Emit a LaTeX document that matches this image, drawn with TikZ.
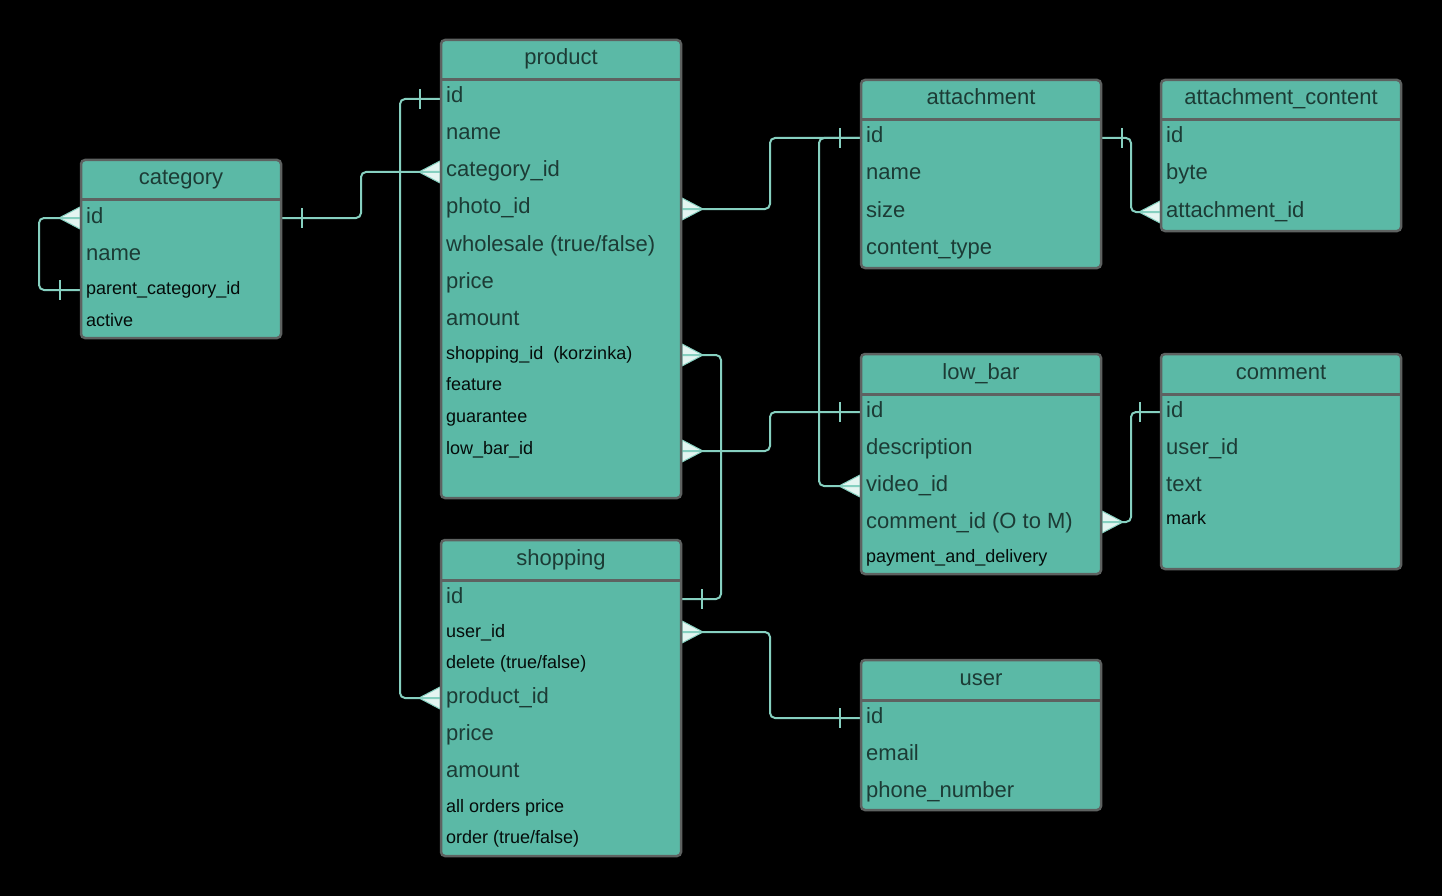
\documentclass[tikz,border=0pt]{standalone}
\usepackage{fontspec}
\setmainfont{Liberation Sans}
\definecolor{tfill}{HTML}{5BB9A6}
\definecolor{tedge}{HTML}{5E6261}
\definecolor{link}{HTML}{86D0C0}
\definecolor{crowfill}{HTML}{E4F5F1}
\definecolor{bigtxt}{HTML}{1C3B35}
\definecolor{smalltxt}{HTML}{050C0A}

\tikzset{
  tbl/.style={draw=tedge, line width=2.5pt, fill=tfill, rounded corners=4pt,
    inner sep=0pt, outer sep=0pt, anchor=north west},
  sepline/.style={draw=tedge, line width=3pt},
  ttl/.style={font=\fontsize{22}{26}\selectfont, text=bigtxt, anchor=base, inner sep=0pt},
  big/.style={font=\fontsize{22}{26}\selectfont, text=bigtxt, anchor=base west, inner sep=0pt},
  small/.style={font=\fontsize{18}{22}\selectfont, text=smalltxt, anchor=base west, inner sep=0pt},
  conn/.style={draw=link, line width=2pt, rounded corners=5pt},
  barmark/.style={draw=link, line width=2pt},
  crowmark/.style={fill=crowfill, draw=link, line width=1pt, line join=round},
}

% table frame: name, left, top, width, height, title
\newcommand\ertable[6]{%
  \node[tbl, minimum width=#4pt, minimum height=#5pt] (#1) at (#2,#3) {};
  \draw[sepline] (#2,#3+40) -- ++(#4,0);
  \node[ttl] (#1-title) at (#2+#4/2,#3+25) {#6};
}
% crow's foot opening towards the box, foot pointing right / left
\newcommand\crowR[1]{\path[crowmark] (#1) ++(1,-11) -- ++(21,11) -- ++(-21,11) -- cycle;}
\newcommand\crowL[1]{\path[crowmark] (#1) ++(-1,-11) -- ++(-21,11) -- ++(21,11) -- cycle;}
% single bar (one) marks
\newcommand\barR[1]{\draw[barmark] (#1) ++(21,-10) -- ++(0,20);}
\newcommand\barL[1]{\draw[barmark] (#1) ++(-21,-10) -- ++(0,20);}

\begin{document}
\begin{tikzpicture}[x={(1pt,0pt)}, y={(0pt,-1pt)}]
\fill[black] (0,0) rectangle (1442,896);
\useasboundingbox (0,0) rectangle (1442,896);

% connection points on the table edges
\coordinate (cat-id-e) at (281,218);
\coordinate (cat-id-w) at (81,218);
\coordinate (cat-par-w) at (81,290);
\coordinate (p-id-w) at (441,99);
\coordinate (p-cat-w) at (441,172);
\coordinate (p-photo-e) at (681,209);
\coordinate (p-shop-e) at (681,355);
\coordinate (p-low-e) at (681,451);
\coordinate (a-id-w) at (861,138);
\coordinate (a-id-e) at (1101,138);
\coordinate (ac-aid-w) at (1161,212);
\coordinate (lb-id-w) at (861,412);
\coordinate (lb-vid-w) at (861,486);
\coordinate (lb-com-e) at (1101,522);
\coordinate (cm-id-w) at (1161,412);
\coordinate (s-id-e) at (681,599);
\coordinate (s-uid-e) at (681,632);
\coordinate (s-pid-w) at (441,698);
\coordinate (u-id-w) at (861,718);

% crow's feet (many side)
\crowL{p-cat-w}
\crowL{cat-id-w}
\crowL{s-pid-w}
\crowR{p-photo-e}
\crowL{lb-vid-w}
\crowL{ac-aid-w}
\crowR{p-shop-e}
\crowR{p-low-e}
\crowR{lb-com-e}
\crowR{s-uid-e}

% relationships
\draw[conn] (cat-id-e) -- ++(80,0) |- (p-cat-w);
\draw[conn] (cat-id-w) -- ++(-42,0) |- (cat-par-w);
\draw[conn] (p-id-w) -- ++(-41,0) |- (s-pid-w);
\draw[conn] (p-photo-e) -- ++(89,0) |- (a-id-w);
\draw[conn] (a-id-w) -- ++(-42,0) |- (lb-vid-w);
\draw[conn] (a-id-e) -- ++(30,0) |- (ac-aid-w);
\draw[conn] (p-shop-e) -- ++(40,0) |- (s-id-e);
\draw[conn] (p-low-e) -- ++(89,0) |- (lb-id-w);
\draw[conn] (lb-com-e) -- ++(30,0) |- (cm-id-w);
\draw[conn] (s-uid-e) -- ++(89,0) |- (u-id-w);

% one-side marks
\barR{cat-id-e}
\barL{cat-par-w}
\barL{p-id-w}
\barL{a-id-w}
\barR{a-id-e}
\barR{s-id-e}
\barL{lb-id-w}
\barL{cm-id-w}
\barL{u-id-w}

% category
\ertable{category}{81}{160}{200}{178}{category}
\node[big]   (cat-f1) at (86,223) {id};
\node[big]   (cat-f2) at (86,260) {name};
\node[small] (cat-f3) at (86,294) {parent\_category\_id};
\node[small] (cat-f4) at (86,326) {active};

% product
\ertable{product}{441}{40}{240}{458}{product}
\node[big]   (p-f1)  at (446,103) {id};
\node[big]   (p-f2)  at (446,140) {name};
\node[big]   (p-f3)  at (446,177) {category\_id};
\node[big]   (p-f4)  at (446,214) {photo\_id};
\node[big]   (p-f5)  at (446,251) {wholesale (true/false)};
\node[big]   (p-f6)  at (446,288) {price};
\node[big]   (p-f7)  at (446,325) {amount};
\node[small] (p-f8)  at (446,359) {shopping\_id\ \ (korzinka)};
\node[small] (p-f9)  at (446,390.5) {feature};
\node[small] (p-f10) at (446,422) {guarantee};
\node[small] (p-f11) at (446,454) {low\_bar\_id};

% attachment
\ertable{attachment}{861}{80}{240}{188}{attachment}
\node[big] (a-f1) at (866,143) {id};
\node[big] (a-f2) at (866,180) {name};
\node[big] (a-f3) at (866,217) {size};
\node[big] (a-f4) at (866,254) {content\_type};

% attachment_content
\ertable{attcontent}{1161}{80}{240}{151}{attachment\_content}
\node[big] (ac-f1) at (1166,143) {id};
\node[big] (ac-f2) at (1166,180) {byte};
\node[big] (ac-f3) at (1166,217) {attachment\_id};

% low_bar
\ertable{lowbar}{861}{354}{240}{220}{low\_bar}
\node[big]   (lb-f1) at (866,417) {id};
\node[big]   (lb-f2) at (866,454) {description};
\node[big]   (lb-f3) at (866,491) {video\_id};
\node[big]   (lb-f4) at (866,528) {comment\_id (O to M)};
\node[small] (lb-f5) at (866,562) {payment\_and\_delivery};

% comment
\ertable{comment}{1161}{354}{240}{215}{comment}
\node[big]   (cm-f1) at (1166,417) {id};
\node[big]   (cm-f2) at (1166,454) {user\_id};
\node[big]   (cm-f3) at (1166,491) {text};
\node[small] (cm-f4) at (1166,524) {mark};

% shopping
\ertable{shopping}{441}{540}{240}{316}{shopping}
\node[big]   (s-f1) at (446,603) {id};
\node[small] (s-f2) at (446,637) {user\_id};
\node[small] (s-f3) at (446,668.5) {delete (true/false)};
\node[big]   (s-f4) at (446,703) {product\_id};
\node[big]   (s-f5) at (446,740) {price};
\node[big]   (s-f6) at (446,777) {amount};
\node[small] (s-f7) at (446,812) {all orders price};
\node[small] (s-f8) at (446,843.5) {order (true/false)};

% user
\ertable{user}{861}{660}{240}{150}{user}
\node[big] (u-f1) at (866,723) {id};
\node[big] (u-f2) at (866,760) {email};
\node[big] (u-f3) at (866,797) {phone\_number};
\end{tikzpicture}
\end{document}
